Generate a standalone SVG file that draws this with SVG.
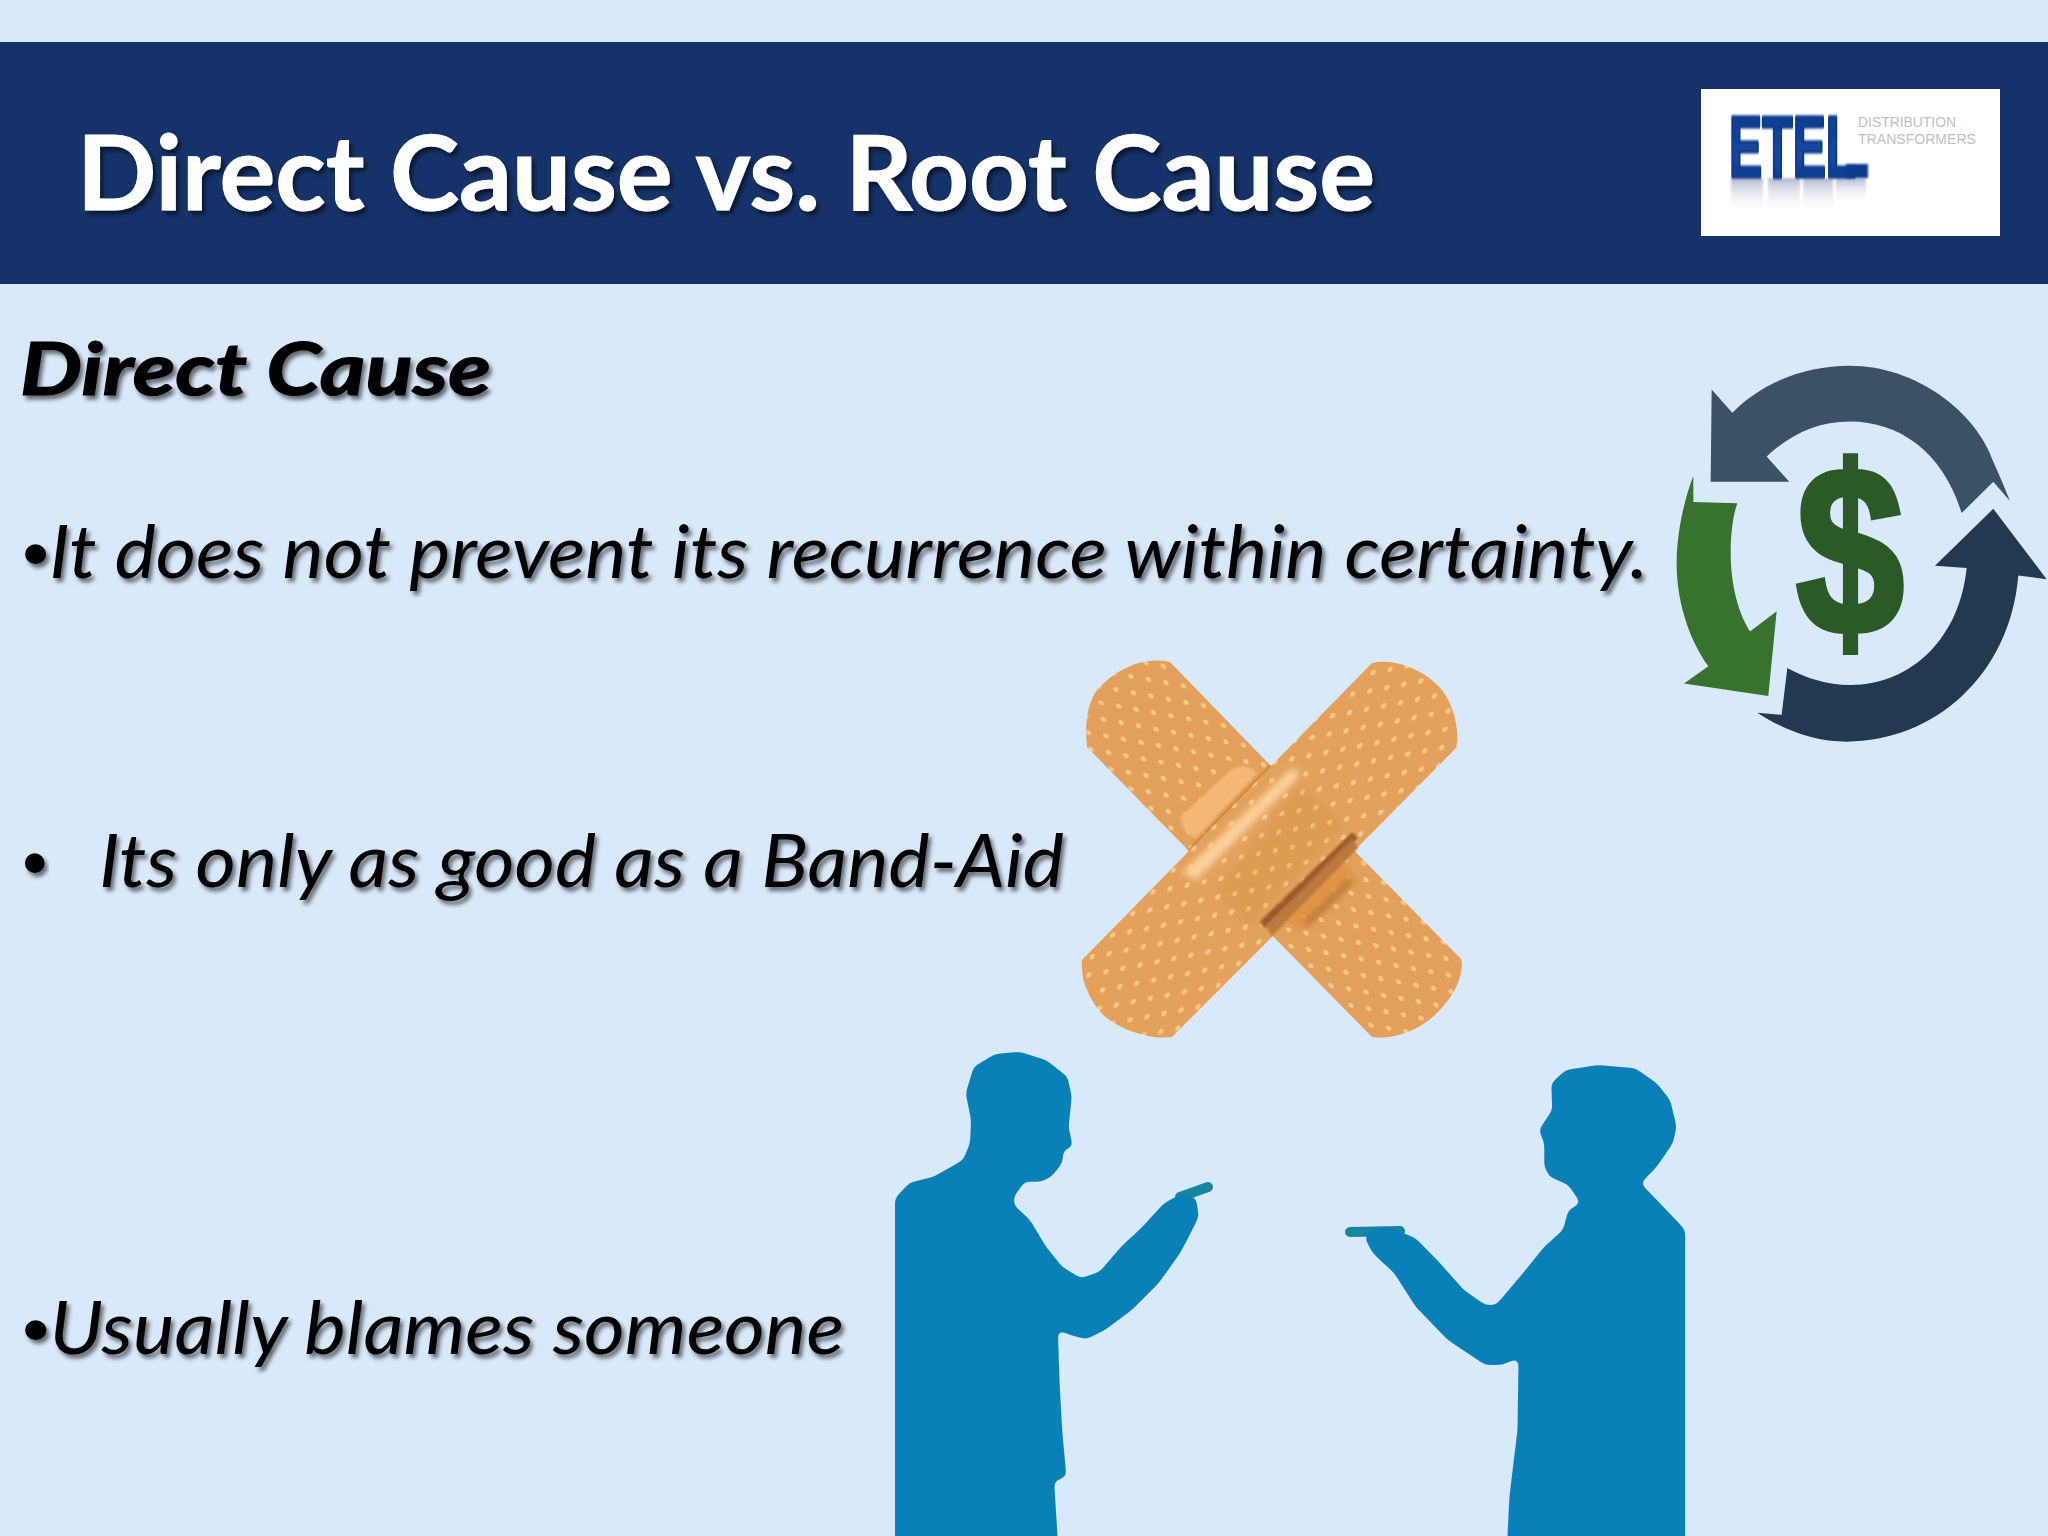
<svg xmlns="http://www.w3.org/2000/svg" width="2048" height="1536" viewBox="0 0 2048 1536">
<style>
.t{font-family:Lato,"Open Sans","Liberation Sans",sans-serif;font-style:italic;fill:#000;font-size:73px}
.b{font-family:"Liberation Sans",sans-serif;font-style:normal}
.p{fill:#0980b7}
.tip{fill:none;stroke:#17879f;stroke-width:10;stroke-linecap:round}
.g{font-family:"Liberation Sans",sans-serif;font-size:14px;fill:#bcc0c5}
</style>
<defs>
<filter id="sh" x="-5%" y="-20%" width="110%" height="150%"><feDropShadow dx="3" dy="4" stdDeviation="2.2" flood-color="#000" flood-opacity=".55"/></filter>
<filter id="b3" x="-30%" y="-30%" width="160%" height="160%"><feGaussianBlur stdDeviation="3"/></filter>
<filter id="b1" x="-30%" y="-30%" width="160%" height="160%"><feGaussianBlur stdDeviation=".8"/></filter>
<filter id="smooth" x="-5%" y="-5%" width="110%" height="110%" color-interpolation-filters="sRGB"><feGaussianBlur stdDeviation="6 9"/><feComponentTransfer><feFuncA type="linear" slope="8" intercept="-3.5"/></feComponentTransfer></filter>
<pattern id="dotsB" width="20" height="20" patternUnits="userSpaceOnUse" patternTransform="matrix(.875 .16 .125 .825 1086 660)"><rect width="20" height="20" fill="#e2a05c"/><circle cx="10" cy="10" r="3" fill="#fcc88a"/></pattern>
<pattern id="dotsA" width="20" height="20" patternUnits="userSpaceOnUse" patternTransform="matrix(.85 -.165 -.165 .915 1380 680)"><rect width="20" height="20" fill="#e3a15c"/><circle cx="10" cy="10" r="3" fill="#fcc88a"/></pattern>
<linearGradient id="etel" x1="0" y1="0" x2="0" y2="1"><stop offset="0" stop-color="#0a3a8c"/><stop offset=".6" stop-color="#1448a0"/><stop offset="1" stop-color="#0b3480"/></linearGradient>
<linearGradient id="refl" x1="0" y1="0" x2="0" y2="1"><stop offset="0" stop-color="#a8aec8" stop-opacity=".85"/><stop offset="1" stop-color="#ffffff" stop-opacity="0"/></linearGradient>
</defs>
<rect width="2048" height="1536" fill="#d9e9fc"/>
<g id="header">
<rect y="42" width="2048" height="242" fill="#15336a"/>
<text x="77" y="210" font-family="Lato,'Open Sans','Liberation Sans',sans-serif" font-weight="700" font-size="103" fill="#fff" stroke="#fff" stroke-width="1" textLength="1298" lengthAdjust="spacingAndGlyphs" filter="url(#sh)">Direct Cause vs. Root Cause</text>
</g>
<g id="logo">
<rect x="1701" y="89" width="299" height="147" fill="#fff"/>
<g fill="url(#refl)" filter="url(#b1)">
<rect x="1731" y="178" width="32" height="36"/><rect x="1768" y="178" width="32" height="36"/><rect x="1803" y="178" width="30" height="36"/><rect x="1836" y="178" width="30" height="26"/>
</g>
<text transform="translate(1729 177) scale(.83 1.45)" font-family="'Liberation Sans',sans-serif" font-weight="700" font-size="60" fill="url(#etel)" stroke="#0b3a8c" stroke-width="2.4" stroke-linejoin="round" filter="url(#b1)">ETEL</text>
<rect x="1846" y="164" width="22" height="14" fill="#0b3a8c" filter="url(#b1)"/>
<text class="g" x="1858" y="127" textLength="98" lengthAdjust="spacingAndGlyphs">DISTRIBUTION</text>
<text class="g" x="1858" y="144" textLength="118" lengthAdjust="spacingAndGlyphs">TRANSFORMERS</text>
</g>
<g id="heading"><text class="t" x="20" y="395" font-weight="700" font-size="86" stroke="#000" stroke-width="1.2" textLength="471" lengthAdjust="spacingAndGlyphs" filter="url(#sh)">Direct Cause</text></g>
<g id="bullet-1"><text class="t" x="22" y="578" textLength="1626" lengthAdjust="spacingAndGlyphs" filter="url(#sh)"><tspan class="b">•</tspan>It does not prevent its recurrence within certainty.</text></g>
<g id="bullet-2"><text class="t b" x="22" y="887" filter="url(#sh)">•</text><text class="t" x="99" y="887" textLength="965" lengthAdjust="spacingAndGlyphs" filter="url(#sh)">Its only as good as a Band-Aid</text></g>
<g id="bullet-3"><text class="t" x="22" y="1354" textLength="822" lengthAdjust="spacingAndGlyphs" filter="url(#sh)"><tspan class="b">•</tspan>Usually blames someone</text></g>
<g id="cycle-icon" transform="translate(1650 60) scale(.3333 .4464)">
<path fill="#3a5166" d="M185,738 L247,790 C340,720 470,685 600,685 C800,685 980,790 1030,900 Q1060,950 1080,988 L1030,945 L935,1015 C880,880 750,810 600,810 C500,810 420,840 350,888 L418,945 L182,945 Z"/>
<path fill="#23394f" d="M1030,1005 L1190,1163 L1105,1155 C1080,1380 850,1527 590,1527 C490,1527 400,1500 322,1462 L395,1467 L412,1362 C470,1385 530,1400 600,1400 C790,1400 930,1290 950,1138 L855,1133 Z"/>
<path fill="#38722f" d="M130,932 L130,990 L262,993 C235,1050 225,1190 300,1280 L380,1235 L355,1425 L102,1397 L175,1358 C110,1290 78,1200 80,1120 C82,1050 105,980 130,932 Z"/>
</g>
<g id="dollar"><text x="1796" y="634" font-family="'Liberation Sans',sans-serif" font-weight="700" font-size="240" fill="#2a5a26" stroke="#2a5a26" stroke-width="6" textLength="108" lengthAdjust="spacingAndGlyphs">$</text></g>
<g id="bandage">
<path fill="url(#dotsB)" d="M1170,662 C1143,656 1113,670 1095,693 C1086,708 1085,728 1087,747 L1188,850 L1372,1037 C1395,1040 1420,1030 1437,1013 C1452,998 1463,980 1462,960 L1270,765 Z"/>
<path d="M1188,850 L1270,765 L1283,778 L1201,862 Z" fill="#b5702f" opacity=".75" filter="url(#b1)"/>
<path d="M1180,817 L1232,769 Q1246,762 1257,773 L1196,838 Q1184,836 1180,817 Z" fill="#f6b678" filter="url(#b1)"/>
<path d="M1340,860 L1355,875 L1300,930 L1285,920 Z" fill="#e0913f" opacity=".8" filter="url(#b3)"/>
<path fill="url(#dotsA)" d="M1372,663 C1395,658 1425,670 1442,690 C1453,705 1459,725 1457,747 L1357,848 L1272,937 L1172,1037 C1150,1040 1120,1030 1103,1015 C1090,1000 1080,982 1082,960 L1188,852 L1272,765 Z"/>
<path d="M1182,873 L1292,768 L1300,772 L1296,780 L1196,880 Z" fill="#fbd09c" filter="url(#b3)"/>
<path d="M1215,890 L1300,785 L1345,825 L1250,925 Z" fill="#c98f2c" opacity=".22" filter="url(#b3)"/>
<path d="M1355,835 L1262,925" stroke="#8a4a1f" stroke-width="8" opacity=".8" fill="none" filter="url(#b1)"/>
<path d="M1358,848 L1272,936 L1266,926 L1352,838 Z" fill="#b8743a" opacity=".9" filter="url(#b1)"/>
<path d="M1352,880 L1305,925" stroke="#a8682a" stroke-width="6" opacity=".7" fill="none" filter="url(#b3)"/>
</g>
<g id="person-left">
<path class="tip" d="M1180,1197 L1208,1187"/>
<path class="p" transform="translate(880 1030) scale(.5357 .3333)" filter="url(#smooth)" d="M28,505 L55,458 L100,440 L155,390 L168,340 L170,270 L160,190 L175,110 L215,72 L260,65 L310,90 L350,140 L358,200 L352,290 L360,350 L343,360 L340,400 L320,440 L300,455 L270,455 L250,500 L250,525 L280,570 L310,650 L340,710 L375,745 L410,725 L450,650 L490,590 L530,520 L565,490 L590,505 L595,560 L575,625 L560,670 L520,760 L470,840 L420,900 L385,928 L355,915 L332,900 L335,1050 L340,1200 L348,1340 L325,1355 L333,1560 L28,1560 Z"/>
</g>
<g id="person-right">
<path class="tip" d="M1400,1231 L1350,1232"/>
<path class="p" transform="translate(880 1030) scale(.5357 .3333)" filter="url(#smooth)" d="M1503,600 L1480,560 L1420,460 L1450,410 L1480,340 L1487,290 L1475,210 L1450,160 L1410,115 L1340,105 L1280,120 L1253,160 L1255,240 L1230,300 L1240,340 L1240,410 L1250,440 L1285,465 L1308,520 L1285,540 L1275,600 L1240,650 L1200,730 L1150,825 L1130,825 L1090,780 L1040,690 L1000,625 L950,590 L915,600 L905,625 L920,670 L960,730 L1000,830 L1060,930 L1130,1005 L1160,1005 L1192,985 L1190,1200 L1175,1400 L1170,1560 L1503,1560 Z"/>
</g>
</svg>
